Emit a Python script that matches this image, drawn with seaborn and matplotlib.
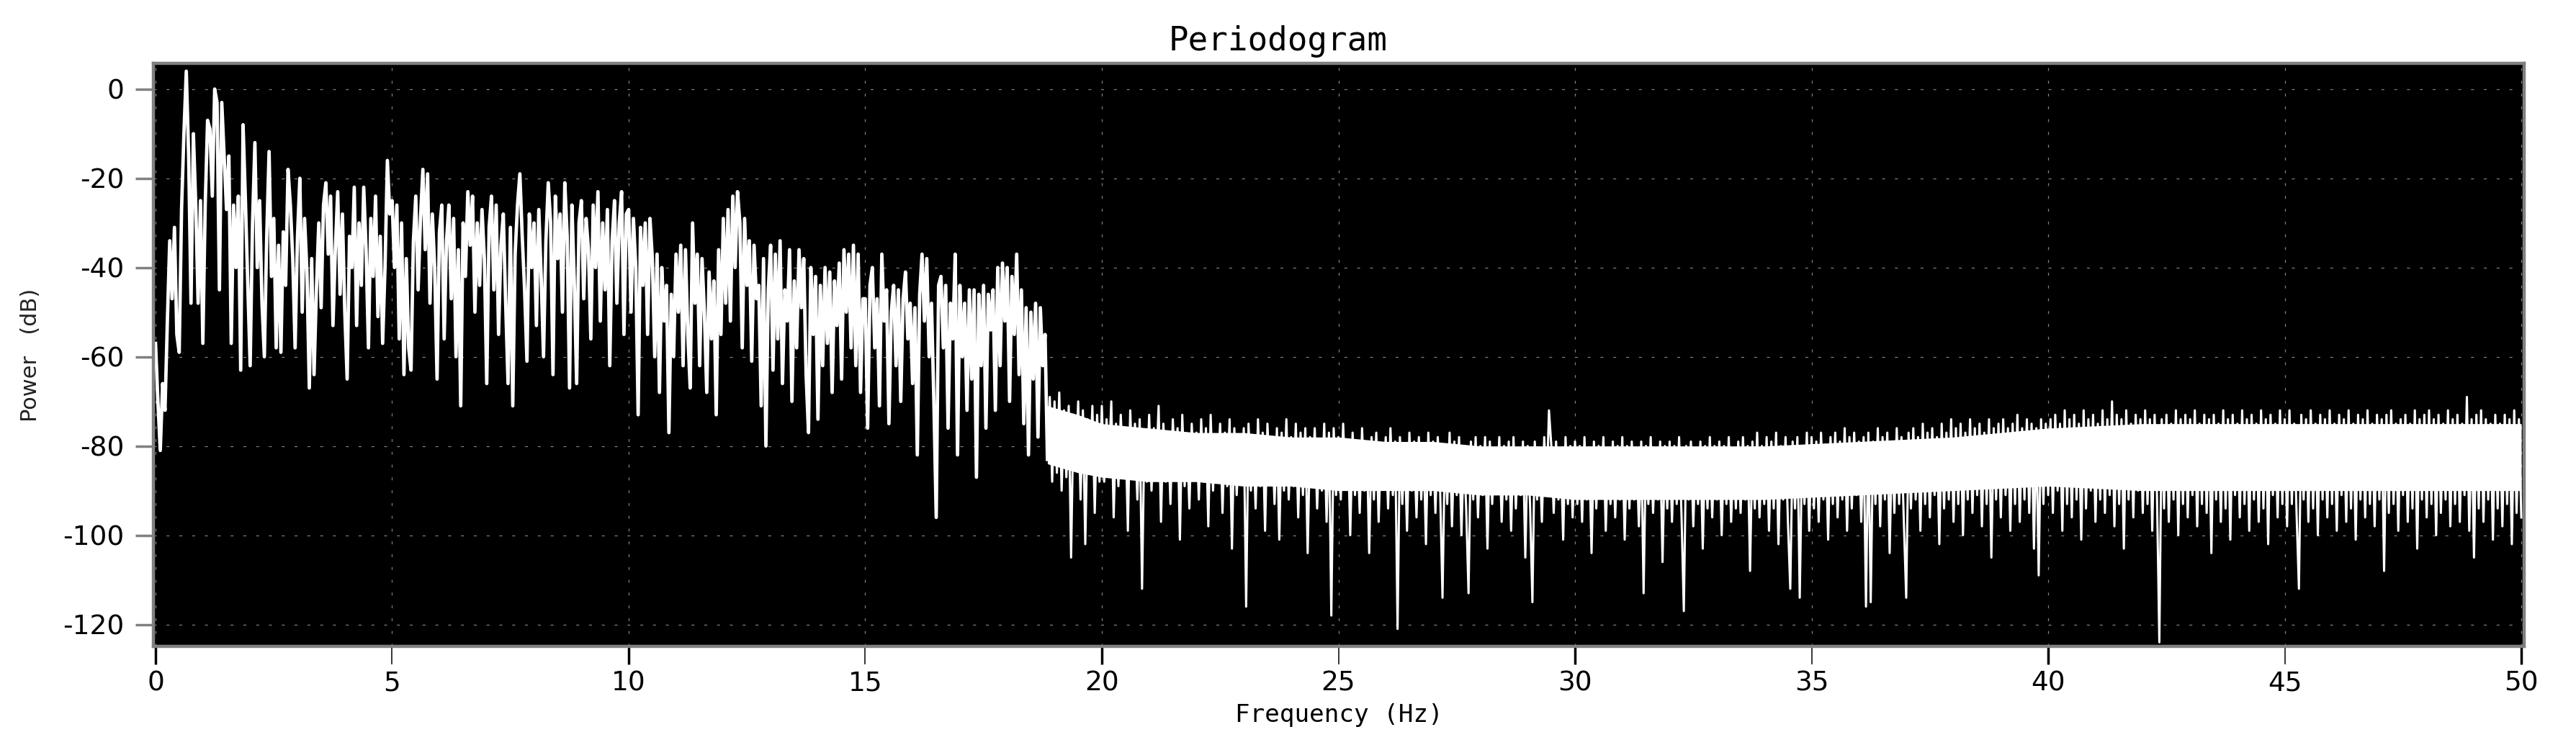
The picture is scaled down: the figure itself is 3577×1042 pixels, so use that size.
import matplotlib
matplotlib.use('Agg')
import matplotlib.pyplot as plt
import numpy as np
import seaborn as sns

# Periodogram power (dB), one value every 0.05 Hz
power_0_5 = [
    -57, -70, -81, -66, -72, -52, -34, -47, -31, -55,
    -59, -27, -10, 4, -15, -48, -10, -26, -48, -25,
    -57, -26, -7, -9, -24, 0, -3, -45, -3, -15,
    -27, -15, -57, -26, -40, -24, -63, -8, -25, -44,
    -62, -30, -12, -40, -25, -48, -60, -33, -14, -42,
    -29, -58, -35, -59, -32, -44, -18, -26, -38, -58,
    -33, -20, -50, -29, -41, -67, -38, -64, -45, -30,
    -49, -26, -21, -37, -24, -53, -36, -23, -46, -28,
    -50, -65, -33, -40, -22, -53, -30, -44, -22, -36,
    -58, -29, -42, -24, -51, -33, -57, -40, -16, -28,
]
power_5_10 = [
    -25, -40, -26, -56, -30, -64, -38, -58, -63, -34,
    -24, -45, -29, -18, -36, -19, -48, -28, -40, -65,
    -32, -26, -56, -34, -26, -47, -29, -60, -36, -71,
    -30, -42, -23, -35, -24, -50, -30, -44, -27, -38,
    -66, -31, -24, -45, -26, -55, -35, -28, -48, -66,
    -31, -71, -37, -26, -19, -33, -45, -61, -28, -40,
    -30, -53, -27, -42, -60, -34, -21, -30, -64, -24,
    -38, -28, -50, -21, -33, -67, -26, -43, -66, -30,
    -25, -47, -29, -36, -56, -26, -40, -23, -52, -30,
    -45, -27, -62, -34, -25, -48, -30, -23, -55, -28,
]
power_10_15 = [
    -27, -50, -29, -40, -73, -31, -44, -30, -55, -29,
    -38, -60, -37, -68, -40, -52, -44, -77, -46, -60,
    -37, -50, -35, -62, -36, -55, -67, -30, -48, -37,
    -62, -38, -50, -68, -41, -56, -43, -73, -36, -55,
    -29, -48, -27, -52, -24, -40, -23, -30, -58, -29,
    -44, -34, -61, -35, -47, -44, -71, -38, -80, -45,
    -35, -63, -37, -56, -34, -66, -45, -52, -36, -70,
    -43, -58, -36, -49, -38, -64, -77, -40, -55, -42,
    -74, -44, -62, -40, -57, -41, -68, -43, -53, -39,
    -65, -36, -50, -37, -58, -35, -62, -37, -68, -47,
]
power_15_20 = [
    -47, -76, -44, -40, -58, -47, -71, -37, -52, -45,
    -75, -50, -44, -62, -45, -70, -47, -41, -56, -48,
    -66, -49, -82, -46, -37, -52, -38, -60, -48, -70,
    -96, -44, -42, -58, -44, -76, -48, -56, -37, -82,
    -44, -60, -48, -72, -45, -65, -45, -87, -46, -62,
    -44, -76, -46, -54, -45, -72, -40, -62, -39, -52,
    -40, -70, -42, -55, -37, -64, -45, -75, -49, -82,
    -50, -65, -48, -78, -49, -62, -55, -83, -69, -88,
    -70, -86, -68, -90, -72, -87, -71, -105, -73, -85,
    -70, -92, -72, -102, -74, -86, -71, -95, -73, -88,
]
power_20_25 = [
    -71, -88, -74, -84, -70, -96, -75, -89, -73, -86,
    -76, -99, -72, -87, -75, -92, -74, -112, -77, -88,
    -73, -90, -76, -85, -71, -97, -75, -88, -77, -93,
    -74, -86, -76, -101, -73, -89, -78, -94, -75, -87,
    -77, -92, -74, -88, -76, -98, -73, -90, -78, -86,
    -75, -95, -77, -89, -74, -103, -76, -91, -79, -87,
    -76, -116, -75, -90, -78, -94, -74, -89, -77, -99,
    -75, -88, -78, -93, -76, -101, -77, -90, -74, -92,
    -78, -89, -75, -96, -77, -91, -76, -104, -78, -88,
    -76, -94, -79, -90, -75, -97, -77, -118, -76, -91,
]
power_25_30 = [
    -78, -92, -75, -89, -79, -100, -77, -91, -80, -95,
    -76, -90, -79, -104, -78, -92, -77, -97, -80, -89,
    -78, -94, -76, -91, -79, -121, -78, -93, -80, -99,
    -77, -90, -79, -96, -78, -92, -80, -102, -77, -91,
    -79, -95, -78, -90, -114, -80, -93, -77, -98, -79,
    -91, -78, -100, -80, -94, -113, -79, -92, -78, -96,
    -80, -91, -78, -103, -79, -93, -81, -90, -78, -97,
    -80, -92, -79, -99, -78, -94, -81, -91, -79, -105,
    -80, -93, -115, -79, -92, -81, -97, -78, -90, -72,
    -80, -95, -79, -92, -81, -101, -78, -93, -80, -96,
]
power_30_35 = [
    -79, -93, -80, -97, -78, -92, -81, -104, -79, -94,
    -80, -91, -78, -99, -81, -93, -79, -96, -80, -92,
    -78, -101, -80, -94, -79, -92, -81, -98, -79, -113,
    -80, -93, -78, -95, -81, -92, -79, -106, -80, -94,
    -79, -97, -80, -93, -78, -95, -117, -80, -92, -79,
    -98, -81, -93, -79, -103, -80, -94, -78, -96, -80,
    -92, -79, -100, -80, -93, -78, -97, -81, -94, -79,
    -95, -78, -92, -80, -108, -79, -94, -77, -96, -80,
    -93, -78, -99, -79, -94, -77, -102, -80, -92, -78,
    -97, -112, -79, -94, -78, -114, -80, -93, -77, -99,
]
power_35_40 = [
    -78, -94, -79, -97, -77, -92, -80, -101, -78, -93,
    -77, -96, -79, -92, -76, -99, -78, -94, -77, -91,
    -79, -97, -78, -116, -77, -115, -79, -93, -76, -98,
    -78, -92, -77, -104, -79, -95, -76, -93, -78, -97,
    -114, -77, -94, -76, -92, -78, -99, -75, -93, -77,
    -96, -76, -91, -78, -102, -75, -94, -77, -92, -74,
    -97, -76, -93, -75, -100, -77, -92, -74, -95, -76,
    -91, -75, -98, -77, -93, -74, -105, -76, -92, -75,
    -96, -74, -91, -76, -99, -75, -93, -73, -97, -76,
    -92, -74, -95, -75, -103, -76, -109, -74, -93, -75,
]
power_40_45 = [
    -91, -74, -95, -73, -90, -75, -99, -72, -93, -74,
    -96, -73, -92, -75, -101, -72, -94, -74, -90, -73,
    -97, -75, -92, -72, -95, -74, -91, -70, -98, -73,
    -93, -74, -103, -72, -92, -75, -96, -73, -90, -74,
    -95, -72, -93, -74, -99, -73, -91, -124, -74, -94,
    -73, -97, -75, -92, -72, -100, -74, -93, -73, -96,
    -74, -91, -72, -98, -75, -93, -73, -95, -74, -104,
    -73, -92, -75, -97, -72, -94, -74, -101, -73, -91,
    -75, -96, -72, -93, -74, -99, -73, -92, -75, -97,
    -72, -94, -74, -102, -73, -91, -75, -96, -72, -93,
]
power_45_50 = [
    -74, -98, -72, -93, -75, -95, -112, -73, -92, -74,
    -97, -72, -94, -75, -100, -73, -92, -74, -96, -72,
    -93, -75, -99, -73, -91, -74, -97, -72, -94, -75,
    -101, -73, -92, -74, -96, -72, -93, -75, -98, -73,
    -92, -74, -108, -73, -95, -72, -93, -75, -99, -74,
    -91, -73, -97, -75, -94, -72, -103, -74, -92, -73,
    -96, -72, -93, -74, -100, -73, -95, -75, -92, -72,
    -98, -74, -93, -73, -97, -75, -91, -69, -99, -74,
    -105, -73, -94, -72, -97, -74, -92, -75, -101, -73,
    -94, -75, -98, -73, -93, -74, -102, -72, -95, -74,
    -96,
]
freq_step = 0.05
floor_start_hz = 18.85   # where the spectrum drops onto the noise floor

# solid white body of the noise floor (dense bins overlap there)
core_freq = [18.85, 19.5, 20, 21, 22, 23,
             24, 25, 26, 27, 28, 29,
             30, 32, 34, 36, 38, 40,
             42, 44, 46, 48, 50]
core_top = [-71, -73, -75, -76, -77, -77,
            -78, -78, -79, -79, -80, -80,
            -80, -80, -80, -79, -78, -76,
            -75, -75, -75, -75, -75]
core_bottom = [-84, -86, -87, -88, -88, -89,
               -89, -90, -90, -90, -91, -91,
               -92, -92, -92, -91, -90, -89,
               -90, -90, -90, -90, -90]

x_ticks = [0, 5, 10, 15, 20, 25, 30, 35, 40, 45, 50]
y_ticks = [0, -20, -40, -60, -80, -100, -120]

power_db = np.array(power_0_5 + power_5_10 + power_10_15 + power_15_20
                    + power_20_25 + power_25_30 + power_30_35 + power_35_40
                    + power_40_45 + power_45_50, dtype=float)
freq_hz = np.arange(len(power_db)) * freq_step
split = int(round(floor_start_hz / freq_step))

plt.rcParams['axes.unicode_minus'] = False
plt.rcParams['lines.scale_dashes'] = False
plt.rcParams['font.family'] = ['DejaVu Sans']

frame_gray = '#808080'

fig = plt.figure(figsize=(35.77, 10.42), dpi=100, facecolor='white')
ax = fig.add_axes([0.05955, 0.1382, 0.92032, 0.77697])
ax.set_facecolor('black')

ax.fill_between(core_freq, core_bottom, core_top, color='white', linewidth=0, zorder=2)
# signal band drawn a little heavier so the dense bins read as a mass
sns.lineplot(x=freq_hz[:split + 1], y=power_db[:split + 1], ax=ax, color='white',
             linewidth=3.4, estimator=None, sort=False, zorder=3)
sns.lineplot(x=freq_hz[split:], y=power_db[split:], ax=ax, color='white',
             linewidth=2.2, estimator=None, sort=False, zorder=3)

ax.set_xlim(-0.045, 50.06)
ax.set_ylim(-124.9, 5.7)
ax.set_xticks(x_ticks)
ax.set_yticks(y_ticks)
ax.set_xticklabels([str(t) for t in x_ticks])
ax.set_yticklabels([str(t) for t in y_ticks])

ax.grid(True, color=frame_gray, linestyle=(0, (2.9, 9.9)), linewidth=0.9, zorder=1)
ax.set_axisbelow(True)

for side in ['left', 'right', 'top', 'bottom']:
    ax.spines[side].set_color(frame_gray)
    ax.spines[side].set_linewidth(3.2)
    ax.spines[side].set_zorder(5)

ax.tick_params(axis='both', direction='out', length=18, labelsize=27,
               labelcolor='black')
ax.tick_params(axis='x', pad=6)
ax.tick_params(axis='y', pad=11, color=frame_gray, width=2.5)

# gray heavy ticks on tens, thin black ones in between
for val, tick in zip(x_ticks, ax.xaxis.get_major_ticks()):
    if val % 10 == 0:
        tick.tick1line.set_color(frame_gray)
        tick.tick1line.set_markeredgewidth(2.5)
    else:
        tick.tick1line.set_color('black')
        tick.tick1line.set_markeredgewidth(1.1)

ax.set_xlabel('Frequency (Hz)', family='DejaVu Sans Mono', fontsize=24.7, color='black')
ax.xaxis.set_label_coords(0.5, -0.097)
ax.set_ylabel('Power   (dB)', fontsize=22, color='#222222')
ax.yaxis.set_label_coords(-0.0474, 0.5)

fig.text(0.4962, 1 - 69.8 / 1042, 'Periodogram', ha='center', va='baseline',
         family='DejaVu Sans Mono', fontsize=33, color='black')

fig.savefig('out.png', dpi=100, facecolor='white')
